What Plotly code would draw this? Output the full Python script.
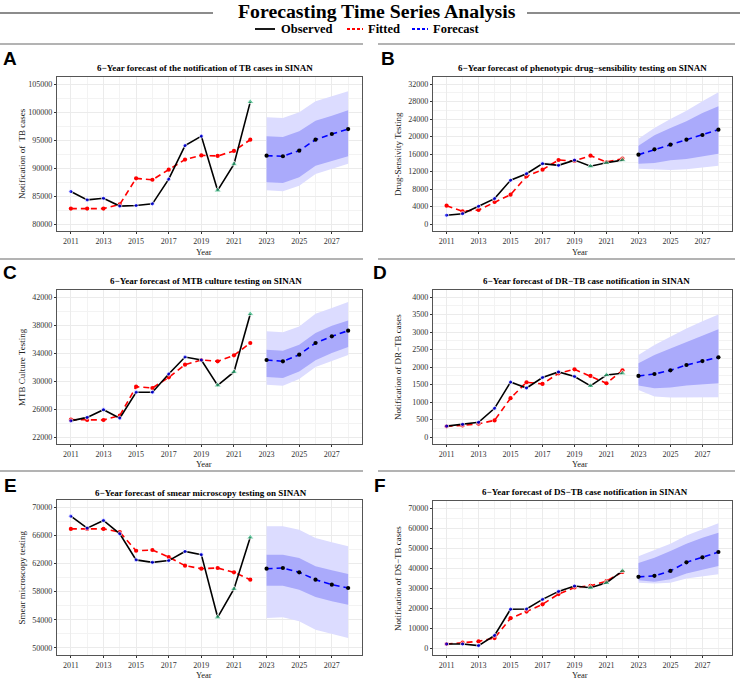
import plotly.graph_objects as go

# ---------------- data ----------------
YEARS_HIST = [2011, 2012, 2013, 2014, 2015, 2016, 2017, 2018, 2019, 2020, 2021, 2022]
YEARS_FC = [2023, 2024, 2025, 2026, 2027, 2028]
SPECIAL_YEARS = [2020, 2021, 2022]
X_TICKS = [2011, 2013, 2015, 2017, 2019, 2021, 2023, 2025, 2027]

# Panel A
A_TITLE = "6−Year forecast of the notification of TB cases in SINAN"
A_YLABEL = "Notification of  TB cases"
A_YTICKS = [80000, 85000, 90000, 95000, 100000, 105000]
A_OBS = [85800, 84300, 84600, 83200, 83300, 83600, 88000, 94000, 95700, 86000, 90700, 101800]
A_FIT = [82750, 82750, 82750, 83500, 88150, 87900, 89700, 91500, 92250, 92150, 93050, 95050]
A_FC = [92200, 92100, 93100, 95060, 96070, 96950]
A_LO80 = [87440, 87320, 88330, 90420, 91190, 92080]
A_HI80 = [95650, 95540, 96550, 98450, 99350, 100300]
A_LO95 = [86010, 85830, 86850, 88930, 89820, 90780]
A_HI95 = [99050, 98930, 99940, 101900, 102800, 103690]

# Panel B
B_TITLE = "6−Year forecast of phenotypic drug−sensibility testing on SINAN"
B_YLABEL = "Drug-Sensivity Testing"
B_YTICKS = [0, 4000, 8000, 12000, 16000, 20000, 24000, 28000, 32000]
B_OBS = [2000, 2350, 4050, 5800, 10000, 11500, 13800, 13400, 14600, 13200, 14000, 14600]
B_FIT = [4190, 2900, 3200, 5030, 6700, 10900, 12420, 14630, 14400, 15620, 14170, 14930]
B_FC = [15850, 17070, 18130, 19280, 20340, 21560]
B_LO80 = [13790, 13940, 14550, 14860, 15470, 16080]
B_HI80 = [17900, 20270, 21940, 23470, 25370, 26900]
B_LO95 = [12650, 12420, 12340, 12500, 12880, 13330]
B_HI95 = [19500, 21940, 24000, 25900, 28040, 30100]

# Panel C
C_TITLE = "6−Year forecast of MTB culture testing on SINAN"
C_YLABEL = "MTB Culture Testing"
C_YTICKS = [22000, 26000, 30000, 34000, 38000, 42000]
C_OBS = [24300, 24800, 25900, 24700, 28400, 28400, 31000, 33430, 33000, 29380, 31290, 39570]
C_FIT = [24480, 24430, 24430, 25050, 29190, 29000, 30520, 32330, 33000, 32810, 33670, 35430]
C_FC = [33000, 32810, 33760, 35430, 36380, 37190]
C_LO80 = [30570, 30430, 31370, 32950, 34000, 34860]
C_HI80 = [34470, 34330, 35190, 36860, 37900, 38660]
C_LO95 = [29470, 29330, 30290, 32000, 32900, 33710]
C_HI95 = [37090, 36950, 37800, 39610, 40430, 41290]

# Panel D
D_TITLE = "6−Year forecast of DR−TB case notification in SINAN"
D_YLABEL = "Notification of DR−TB cases"
D_YTICKS = [0, 500, 1000, 1500, 2000, 2500, 3000, 3500, 4000]
D_OBS = [310, 360, 420, 820, 1570, 1400, 1700, 1860, 1730, 1460, 1770, 1820]
D_FIT = [305, 330, 380, 474, 1109, 1564, 1517, 1820, 1934, 1744, 1536, 1905]
D_FC = [1744, 1800, 1905, 2057, 2170, 2275]
D_LO80 = [1469, 1393, 1412, 1469, 1507, 1536]
D_HI80 = [2104, 2341, 2531, 2720, 2910, 3081]
D_LO95 = [1346, 1156, 1128, 1128, 1128, 1137]
D_HI95 = [2341, 2625, 2862, 3100, 3308, 3498]

# Panel E
E_TITLE = "6−Year forecast of smear microscopy testing on SINAN"
E_YLABEL = "Smear microscopy testing"
E_YTICKS = [50000, 54000, 58000, 62000, 66000, 70000]
E_OBS = [68700, 67000, 68100, 66200, 62500, 62150, 62400, 63700, 63250, 54350, 58370, 65700]
E_FIT = [66900, 66900, 66900, 66450, 63800, 63900, 62900, 61680, 61250, 61350, 60730, 59690]
E_FC = [61250, 61350, 60730, 59690, 58980, 58510]
E_LO80 = [58840, 58840, 58270, 57230, 56620, 56150]
E_HI80 = [63240, 63240, 62770, 61580, 61020, 60500]
E_LO95 = [54260, 54350, 53780, 52600, 52030, 51420]
E_HI95 = [67260, 67260, 66780, 65600, 64990, 64420]

# Panel F
F_TITLE = "6−Year forecast of DS−TB case notification in SINAN"
F_YLABEL = "Notification of DS−TB cases"
F_YTICKS = [0, 10000, 20000, 30000, 40000, 50000, 60000, 70000]
F_OBS = [2000, 2000, 1200, 6300, 19400, 19500, 24300, 28300, 31000, 30120, 32600, 38560]
F_FIT = [2000, 2650, 3310, 4960, 14890, 18200, 21840, 26970, 30280, 31110, 33430, 38060]
F_FC = [35580, 36070, 38560, 42860, 45340, 47990]
F_LO80 = [33920, 33100, 34420, 37230, 39220, 41040]
F_HI80 = [42530, 45180, 48490, 52130, 55100, 57590]
F_LO95 = [32600, 32270, 32600, 34750, 35910, 36900]
F_HI95 = [45840, 48820, 52130, 56260, 59240, 62390]

# ---------------- styling / layout ----------------
W, H = 740, 680
SERIF = "Liberation Serif"
SANS = "Liberation Sans"
LIGHT = "#DCDCFF"
DARK = "#AAAAFB"
GREEN = "#2DB37A"
GRID = "#EBEBEB"
MINOR = "#F3F3F3"
SEP = "#9A9A9A"


def px(x):
    return x / W


def py(y):
    return 1 - y / H


panels = [
    dict(letter="A", title=A_TITLE, ylabel=A_YLABEL, yticks=A_YTICKS, obs=A_OBS, fit=A_FIT, fc=A_FC,
         lo80=A_LO80, hi80=A_HI80, lo95=A_LO95, hi95=A_HI95,
         box=(57, 362, 77, 231), yr=(78750, 106250), minor=2500,
         lx=10, ly=58, tx=205, ty=68, ytx=22, xtx=204, xty=252),
    dict(letter="B", title=B_TITLE, ylabel=B_YLABEL, yticks=B_YTICKS, obs=B_OBS, fit=B_FIT, fc=B_FC,
         lo80=B_LO80, hi80=B_HI80, lo95=B_LO95, hi95=B_HI95,
         box=(433, 732, 77, 231), yr=(-1600, 33600), minor=2000,
         lx=388, ly=58, tx=582, ty=68, ytx=398, xtx=580, xty=252),
    dict(letter="C", title=C_TITLE, ylabel=C_YLABEL, yticks=C_YTICKS, obs=C_OBS, fit=C_FIT, fc=C_FC,
         lo80=C_LO80, hi80=C_HI80, lo95=C_LO95, hi95=C_HI95,
         box=(57, 362, 290, 444), yr=(21000, 43000), minor=2000,
         lx=10, ly=272, tx=206, ty=281, ytx=22, xtx=204, xty=464),
    dict(letter="D", title=D_TITLE, ylabel=D_YLABEL, yticks=D_YTICKS, obs=D_OBS, fit=D_FIT, fc=D_FC,
         lo80=D_LO80, hi80=D_HI80, lo95=D_LO95, hi95=D_HI95,
         box=(433, 732, 290, 444), yr=(-200, 4200), minor=250,
         lx=380, ly=272, tx=586, ty=281, ytx=398, xtx=580, xty=464),
    dict(letter="E", title=E_TITLE, ylabel=E_YLABEL, yticks=E_YTICKS, obs=E_OBS, fit=E_FIT, fc=E_FC,
         lo80=E_LO80, hi80=E_HI80, lo95=E_LO95, hi95=E_HI95,
         box=(57, 362, 500, 655), yr=(49000, 71000), minor=2000,
         lx=10, ly=485, tx=201, ty=493, ytx=21, xtx=204, xty=675),
    dict(letter="F", title=F_TITLE, ylabel=F_YLABEL, yticks=F_YTICKS, obs=F_OBS, fit=F_FIT, fc=F_FC,
         lo80=F_LO80, hi80=F_HI80, lo95=F_LO95, hi95=F_HI95,
         box=(433, 732, 501, 655), yr=(-3500, 73500), minor=5000,
         lx=380, ly=485, tx=585, ty=492, ytx=398, xtx=580, xty=675),
]

fig = go.Figure()
annotations = []
shapes = []
layout_axes = {}

for i, p in enumerate(panels):
    n = i + 1
    xa = "x" if n == 1 else f"x{n}"
    ya = "y" if n == 1 else f"y{n}"
    common = dict(xaxis=xa, yaxis=ya, showlegend=False, hoverinfo="skip")

    # 95% and 80% bands
    fig.add_trace(go.Scatter(x=YEARS_FC + YEARS_FC[::-1], y=p["hi95"] + p["lo95"][::-1],
                             fill="toself", fillcolor=LIGHT, mode="lines", line=dict(width=0), **common))
    fig.add_trace(go.Scatter(x=YEARS_FC + YEARS_FC[::-1], y=p["hi80"] + p["lo80"][::-1],
                             fill="toself", fillcolor=DARK, mode="lines", line=dict(width=0), **common))
    # fitted
    fig.add_trace(go.Scatter(x=YEARS_HIST, y=p["fit"], mode="lines+markers",
                             line=dict(color="#FF0000", width=1.6, dash="6px,4px"),
                             marker=dict(color="#FF0000", size=4.2), **common))
    # observed line
    fig.add_trace(go.Scatter(x=YEARS_HIST, y=p["obs"], mode="lines",
                             line=dict(color="#000000", width=1.6), **common))
    # observed points
    colors = [GREEN if yr in SPECIAL_YEARS else "#0000FF" for yr in YEARS_HIST]
    symbols = ["triangle-up" if yr in SPECIAL_YEARS else "circle" for yr in YEARS_HIST]
    sizes = [6.5 if yr in SPECIAL_YEARS else 4.2 for yr in YEARS_HIST]
    fig.add_trace(go.Scatter(x=YEARS_HIST, y=p["obs"], mode="markers",
                             marker=dict(color=colors, symbol=symbols, size=sizes), **common))
    # forecast
    fig.add_trace(go.Scatter(x=YEARS_FC, y=p["fc"], mode="lines+markers",
                             line=dict(color="#0000FF", width=1.6, dash="6px,4px"),
                             marker=dict(color="#000000", size=4.2), **common))

    x0, x1, y0, y1 = p["box"]
    xkey = "xaxis" if n == 1 else f"xaxis{n}"
    ykey = "yaxis" if n == 1 else f"yaxis{n}"
    layout_axes[xkey] = dict(
        domain=[px(x0), px(x1)], anchor=ya, range=[2010.15, 2028.85],
        tickmode="array", tickvals=X_TICKS,
        showgrid=True, gridcolor=GRID, gridwidth=1,
        minor=dict(dtick=1, tick0=2011, showgrid=True, gridcolor=MINOR, gridwidth=1, ticks=""),
        ticks="outside", ticklen=2, tickcolor="#333333", tickwidth=1,
        showline=True, mirror=True, linecolor="#555555", linewidth=1.2,
        zeroline=False, tickformat="d", tickfont=dict(family=SERIF, size=8, color="#333333"),
    )
    layout_axes[ykey] = dict(
        domain=[py(y1), py(y0)], anchor=xa, range=list(p["yr"]),
        tickmode="array", tickvals=p["yticks"],
        showgrid=True, gridcolor=GRID, gridwidth=1,
        minor=dict(dtick=p["minor"], tick0=p["yticks"][0], showgrid=True, gridcolor=MINOR,
                   gridwidth=1, ticks=""),
        ticks="outside", ticklen=2, tickcolor="#333333", tickwidth=1,
        showline=True, mirror=True, linecolor="#555555", linewidth=1.2,
        zeroline=False, tickformat="d",
        tickfont=dict(family=SERIF, size=8, color="#333333"),
    )

    # texts
    annotations.append(dict(text=f"<b>{p['letter']}</b>", x=px(p["lx"]), y=py(p["ly"]),
                            xref="paper", yref="paper", showarrow=False, xanchor="center", yanchor="middle",
                            font=dict(family=SANS, size=19, color="#000000")))
    annotations.append(dict(text=f"<b>{p['title']}</b>", x=px(p["tx"]), y=py(p["ty"]),
                            xref="paper", yref="paper", showarrow=False, xanchor="center", yanchor="middle",
                            font=dict(family=SERIF, size=9, color="#000000")))
    annotations.append(dict(text=p["ylabel"], x=px(p["ytx"]), y=py((y0 + y1) / 2),
                            xref="paper", yref="paper", showarrow=False, xanchor="center", yanchor="middle",
                            textangle=-90, font=dict(family=SERIF, size=9, color="#222222")))
    annotations.append(dict(text="Year", x=px(p["xtx"]), y=py(p["xty"]),
                            xref="paper", yref="paper", showarrow=False, xanchor="center", yanchor="middle",
                            font=dict(family=SERIF, size=8.5, color="#222222")))

# main title and legend
annotations.append(dict(text="<b>Forecasting Time Series Analysis</b>", x=px(377), y=py(11),
                        xref="paper", yref="paper", showarrow=False, xanchor="center", yanchor="middle",
                        font=dict(family=SERIF, size=19.8, color="#000000")))
shapes.append(dict(type="line", xref="paper", yref="paper", x0=px(0), x1=px(213), y0=py(13), y1=py(13),
                   line=dict(color="#666666", width=1.3)))
shapes.append(dict(type="line", xref="paper", yref="paper", x0=px(527), x1=px(740), y0=py(13), y1=py(13),
                   line=dict(color="#666666", width=1.3)))

legend_items = [
    ("Observed", "#000000", "solid", 255, 275, 279),
    ("Fitted", "#FF0000", "3px,2px", 347, 363, 366),
    ("Forecast", "#0000FF", "3px,2px", 412, 428, 431),
]
for label, col, dash, lx0, lx1, tx in legend_items:
    shapes.append(dict(type="line", xref="paper", yref="paper", x0=px(lx0), x1=px(lx1), y0=py(29), y1=py(29),
                       line=dict(color=col, width=1.8, dash=dash)))
    annotations.append(dict(text=f"<b>{label}</b>", x=px(tx), y=py(29), xref="paper", yref="paper",
                            showarrow=False, xanchor="left", yanchor="middle",
                            font=dict(family=SERIF, size=12.5, color="#000000")))

# panel separator lines
for yy in (44, 259, 471):
    shapes.append(dict(type="line", xref="paper", yref="paper", x0=px(0), x1=px(363), y0=py(yy), y1=py(yy),
                       line=dict(color=SEP, width=1.5)))
    shapes.append(dict(type="line", xref="paper", yref="paper", x0=px(378), x1=px(735), y0=py(yy), y1=py(yy),
                       line=dict(color=SEP, width=1.5)))

fig.update_layout(
    width=W, height=H, margin=dict(l=0, r=0, t=0, b=0),
    paper_bgcolor="#FFFFFF", plot_bgcolor="#FFFFFF",
    annotations=annotations, shapes=shapes, showlegend=False,
    **layout_axes,
)

fig.write_html("out.html", config={"displayModeBar": False},
               post_script="document.body.style.margin='0px';")
